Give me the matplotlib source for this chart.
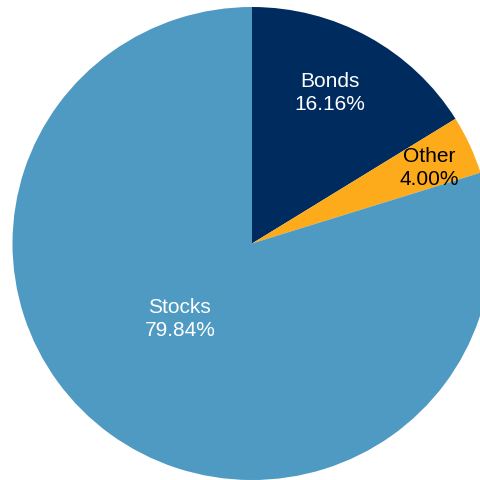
import matplotlib
matplotlib.use("Agg")
import matplotlib.pyplot as plt

# Portfolio allocation
categories = ["Bonds", "Other", "Stocks"]
shares = [16.16, 4.00, 79.84]
colors = ["#002B5E", "#FDAA1B", "#4F9AC2"]
text_colors = ["white", "black", "white"]
# label anchor points in axes data units (pie radius = 1)
label_xy = [(0.326, 0.640), (0.739, 0.325), (-0.301, -0.315)]

plt.rcParams["font.family"] = ["Liberation Sans", "DejaVu Sans"]

fig = plt.figure(figsize=(4.80, 4.81), dpi=100)
ax = fig.add_axes([12.5 / 480, 0.0, 479 / 480, 473 / 481])

ax.pie(shares, colors=colors, startangle=90, counterclock=False,
       radius=1.0, wedgeprops=dict(linewidth=0))
ax.set_aspect("auto")
ax.set_xlim(-1, 1)
ax.set_ylim(-1, 1)
ax.axis("off")

for name, val, (x, y), tc in zip(categories, shares, label_xy, text_colors):
    ax.text(x, y, f"{name}\n{val:.2f}%", ha="center", va="center",
            multialignment="center", fontsize=15, color=tc,
            linespacing=1.25)

fig.savefig("out.png", dpi=100)
